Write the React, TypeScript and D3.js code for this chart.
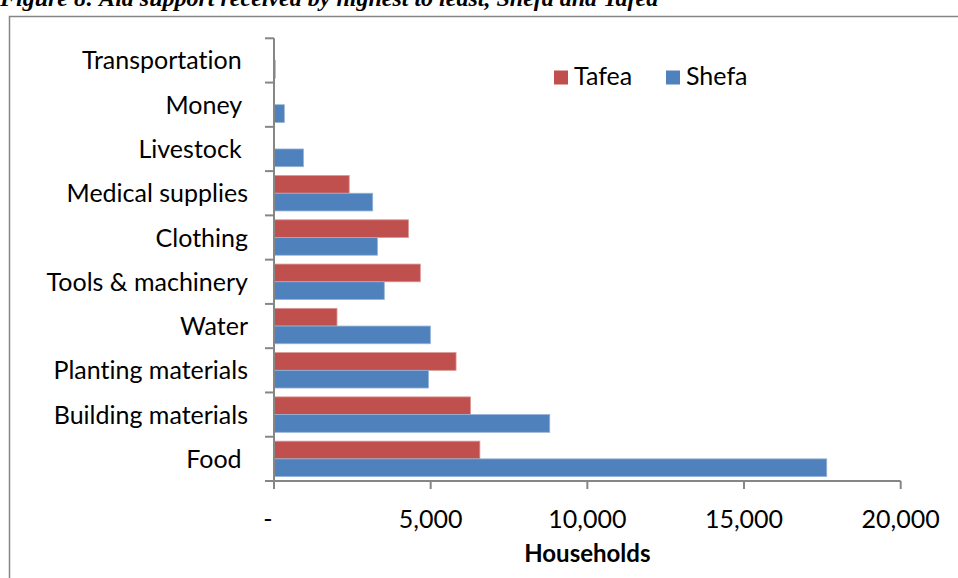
import React from "react";
import * as d3 from "d3";

// Aid categories, listed top to bottom (trailing spaces are part of the labels)
const categories = [
  "Transportation ",
  "Money ",
  "Livestock ",
  "Medical supplies",
  "Clothing",
  "Tools & machinery",
  "Water",
  "Planting materials",
  "Building materials",
  "Food ",
];

// Households receiving each type of aid
const tafea = [0, 0, 0, 2400, 4290, 4670, 2010, 5810, 6270, 6570];
const shefa = [40, 330, 940, 3150, 3300, 3520, 4990, 4930, 8800, 17640];

const seriesNames = ["Tafea", "Shefa"];
const seriesColors = ["#C0504D", "#4F81BD"];
const seriesStroke = ["#D99694", "#95B3D7"];

const xTicks = [0, 5000, 10000, 15000, 20000];
const xTitle = "Households";
const title = "Figure 8: Aid support received by highest to least, Shefa and Tafea";

const W = 958;
const H = 578;
const FONT = "Lato, 'Open Sans', sans-serif";
const AXIS = "#868686";

export default function App() {
  const x = d3.scaleLinear().domain([0, 20000]).range([274, 900.7]);
  const y = d3.scaleBand<string>().domain(categories).range([38.3, 481]).paddingInner(0).paddingOuter(0);
  const inner = d3
    .scaleBand<string>()
    .domain(seriesNames)
    .range([0, y.bandwidth()])
    .paddingInner(0)
    .paddingOuter(0.25);

  const fmt = (v: number) => (v === 0 ? "-" : d3.format(",")(v));
  const series = [tafea, shefa];
  const bounds = categories.map((c) => y(c)!).concat([y.range()[1]]);

  return (
    <svg
      width={W}
      height={H}
      style={{ position: "absolute", left: 0, top: 0, background: "#fff", fontVariantLigatures: "none" }}
      fontFamily={FONT}
    >
      <rect x={0} y={0} width={W} height={H} fill="#fff" />
      <text
        x={0}
        y={6}
        fontFamily="'Liberation Serif', 'Times New Roman', serif"
        fontWeight="bold"
        fontStyle="italic"
        fontSize={24}
        fill="#000"
      >
        {title}
      </text>
      {/* chart frame */}
      <path d={`M9.5,${H + 2}V16.5H${W + 2}`} fill="none" stroke={AXIS} strokeWidth={1.5} />

      {/* bars */}
      {categories.map((c, i) => (
        <g key={c}>
          {series.map((vals, s) =>
            vals[i] > 0 ? (
              <rect
                key={s}
                x={x(0)}
                y={y(c)! + inner(seriesNames[s])!}
                width={x(vals[i]) - x(0)}
                height={inner.bandwidth()}
                fill={seriesColors[s]}
                stroke={seriesStroke[s]}
                strokeWidth={0.8}
              />
            ) : null
          )}
        </g>
      ))}

      {/* y axis */}
      <line x1={x(0)} x2={x(0)} y1={y.range()[0]} y2={489} stroke={AXIS} strokeWidth={2} />
      {bounds.map((b, i) => (
        <line key={i} x1={265} x2={x(0)} y1={b} y2={b} stroke={AXIS} strokeWidth={2} />
      ))}
      {categories.map((c) => (
        <text
          key={c}
          x={248}
          y={y(c)! + y.bandwidth() / 2}
          dy="0.36em"
          textAnchor="end"
          fontSize={25}
          fill="#000"
          style={{ whiteSpace: "pre" }}
          xmlSpace="preserve"
        >
          {c}
        </text>
      ))}

      {/* x axis */}
      <line x1={x(0)} x2={x(20000)} y1={481} y2={481} stroke={AXIS} strokeWidth={2} />
      {xTicks.map((t) => (
        <g key={t}>
          <line x1={x(t)} x2={x(t)} y1={481} y2={489} stroke={AXIS} strokeWidth={2} />
          <text
            x={t === 0 ? x(t) - 6 : x(t)}
            y={528}
            textAnchor="middle"
            fontSize={25}
            fill="#000"
          >
            {fmt(t)}
          </text>
        </g>
      ))}
      <text x={(x(0) + x(20000)) / 2} y={562} textAnchor="middle" fontSize={24} fontWeight="bold" fill="#000">
        {xTitle}
      </text>

      {/* legend */}
      {seriesNames.map((n, s) => {
        const lx = s === 0 ? 554 : 666;
        return (
          <g key={n}>
            <rect x={lx} y={70.5} width={14} height={14} fill={seriesColors[s]} />
            <text x={lx + 20} y={84.5} fontSize={25} fill="#000">
              {n}
            </text>
          </g>
        );
      })}
    </svg>
  );
}
